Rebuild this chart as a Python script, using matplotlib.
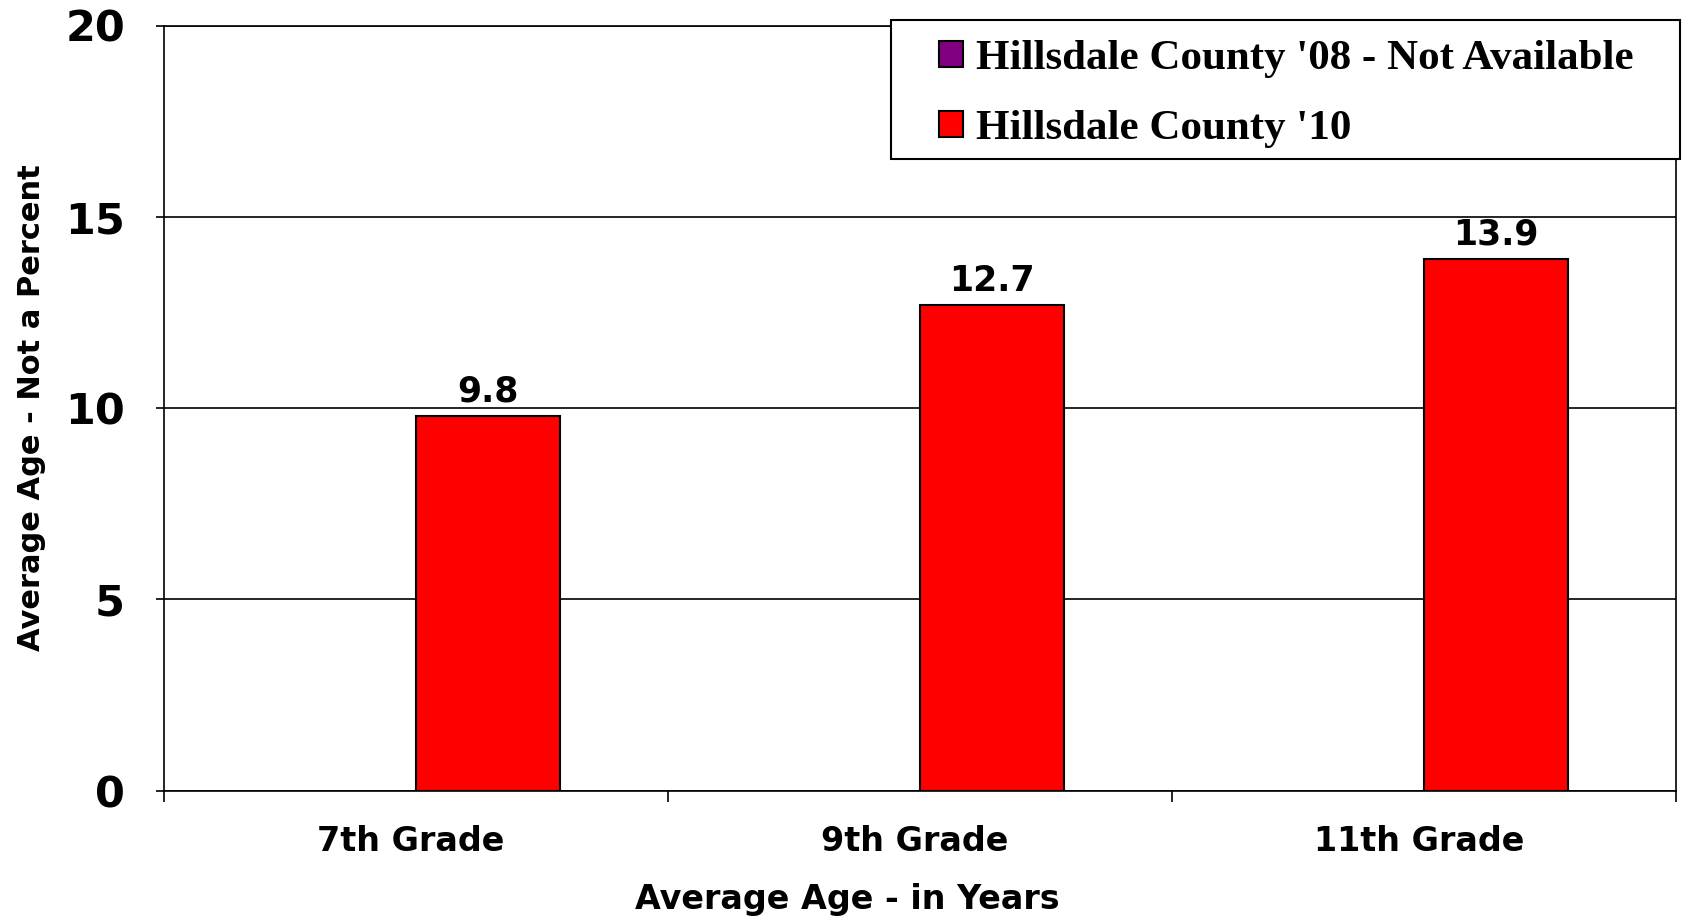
import numpy as np
import matplotlib
matplotlib.use("Agg")
import matplotlib.pyplot as plt
from matplotlib.ticker import FixedLocator
from matplotlib.patches import Rectangle

categories = ["7th Grade", "9th Grade", "11th Grade"]
series_names = ["Hillsdale County '08 - Not Available", "Hillsdale County '10"]
values_08 = [np.nan, np.nan, np.nan]   # not available
values_10 = [9.8, 12.7, 13.9]
yticks = [0, 5, 10, 15, 20]

W, H, DPI = 1682, 918, 100
fig = plt.figure(figsize=(W / DPI, H / DPI), dpi=DPI)
ax = fig.add_axes([164 / W, 1 - 790.5 / H, (1676 - 164) / W, (790.5 - 25.5) / H])

x = np.arange(len(categories))
bw = 0.285
b08 = ax.bar(x - bw / 2, values_08, bw, color="#800080", edgecolor="black", linewidth=1.5,
             label=series_names[0], zorder=3)
b10 = ax.bar(x + bw / 2, values_10, bw, color="#FF0000", edgecolor="black", linewidth=1.5,
             label=series_names[1], zorder=3)

for xi, v in zip(x + bw / 2, values_10):
    ax.annotate(f"{v:.1f}", (xi, v), xytext=(0, 5), textcoords="offset points",
                ha="center", va="bottom", fontsize=25, fontweight="bold",
                family="DejaVu Sans")

ax.set_xlim(-0.5, len(categories) - 0.5)
ax.set_ylim(0, 20)
ax.set_yticks(yticks)
ax.set_yticklabels([str(t) for t in yticks], fontsize=31, fontweight="bold")
ax.yaxis.grid(True, color="black", linewidth=1.2)
ax.set_axisbelow(True)

ax.set_xticks(x - 0.01)
ax.set_xticklabels(categories, fontsize=24, fontweight="bold")
ax.xaxis.set_minor_locator(FixedLocator(np.arange(len(categories) + 1) - 0.5))
ax.tick_params(axis="x", which="major", length=0, pad=25)
ax.tick_params(axis="x", which="minor", length=8, width=1.2, direction="out")
ax.tick_params(axis="y", length=6, width=1.2, direction="out", pad=22)

for s in ax.spines.values():
    s.set_color("black")
    s.set_linewidth(1.2)

ax.set_xlabel("Average Age - in Years", fontsize=24, fontweight="bold")
ax.xaxis.set_label_coords(0.452, -0.121)
ax.set_ylabel("Average Age - Not a Percent", fontsize=22, fontweight="bold")
ax.yaxis.set_label_coords(-0.078, 0.5)

# legend box
fig.patches.append(Rectangle((891 / W, 1 - 159 / H), (1680 - 891) / W, (159 - 20) / H,
                             transform=fig.transFigure, facecolor="white",
                             edgecolor="black", linewidth=1.5, zorder=5))
leg = fig.legend(handles=[b08, b10], labels=series_names,
                 loc="upper left", bbox_to_anchor=(939 / W, 1 - 40 / H),
                 borderaxespad=0, borderpad=0, frameon=False,
                 handlelength=0.55, handleheight=0.55,
                 handletextpad=0.32, labelspacing=0.75,
                 prop={"family": "Liberation Serif", "weight": "bold", "size": 31})
leg.set_zorder(6)

fig.savefig("out.png", dpi=DPI, facecolor="white")
